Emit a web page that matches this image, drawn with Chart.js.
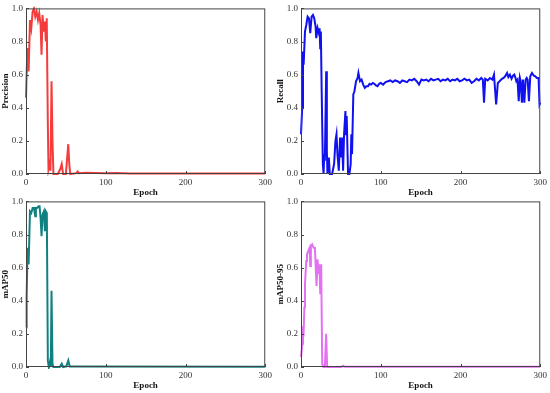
<!DOCTYPE html>
<html>
<head>
<meta charset="utf-8">
<script src="https://cdn.jsdelivr.net/npm/chart.js@4"></script>
<style>
    body { margin: 0; background: #fff; }
    #wrap { position: relative; width: 550px; height: 393px; }
    canvas { position: absolute; }
</style>
</head>
<body>
<div id="wrap">
    <canvas id="c1" width="275" height="199" style="left:0;top:0"></canvas>
    <canvas id="c2" width="275" height="199" style="left:275px;top:0"></canvas>
    <canvas id="c3" width="275" height="200" style="left:0;top:193px"></canvas>
    <canvas id="c4" width="275" height="200" style="left:275px;top:193px"></canvas>
</div>
<script>
// epochs / values
const precisionX = [0, 1.7, 3.3, 5, 6.6, 8.3, 10, 11.6, 13.3, 15, 16.6, 18.3, 19.5, 20.7, 22.4, 23.7, 24.9, 26, 27.4, 28.2, 29.5, 30.7, 32, 33.2, 34.4, 40, 43, 44.8, 46.5, 50, 52, 53, 54.4, 55.6, 63, 64.7, 66.4, 75, 100, 113, 130, 300];
const precisionY = [0.46, 0.76, 0.62, 0.93, 0.88, 0.98, 1.0, 0.95, 0.98, 0.93, 0.97, 0.90, 0.72, 0.96, 0.86, 0.92, 0.80, 0.94, 0.30, 0.03, 0.06, 0.02, 0.56, 0.20, 0.0, 0.0, 0.03, 0.06, 0.0, 0.0, 0.12, 0.18, 0.05, 0.0, 0.005, 0.015, 0.005, 0.008, 0.004, 0.006, 0.003, 0.003];

const recallX = [0, 1.5, 2.5, 3.3, 5, 6.6, 8.3, 10, 11.6, 13.3, 15, 16.6, 18.3, 19.1, 20.8, 22.4, 23.3, 24.1, 24.9, 25.8, 27.4, 28.3, 29.1, 29.9, 31.6, 32.4, 33.2, 34.9, 36.1, 39, 41.5, 43.2, 44.5, 45.7, 47.4, 49, 50.3, 51.5, 52.8, 54, 55.7, 56.5, 57.3, 58.2, 59, 60.7, 62.3, 63.1, 64, 65.6, 67, 69, 71, 72, 74, 76, 78, 80, 82, 84, 86, 88, 90, 92, 94, 96, 98, 100, 103, 106, 109, 112, 115, 118, 121, 124, 127, 130, 133, 136, 139, 142, 145, 148, 151, 154, 157, 160, 163, 166, 169, 172, 175, 178, 181, 184, 187, 190, 193, 196, 199, 202, 205, 208, 211, 214, 217, 220, 223, 226, 228, 229.5, 231, 234, 237, 240, 242, 244.7, 246.8, 249, 252, 254, 256, 258.4, 260, 262, 264, 266, 267.5, 269, 270, 271.5, 273, 274.5, 275.5, 277, 278.4, 280, 281.7, 283, 284.2, 285.8, 287.5, 289.6, 291.7, 293.7, 295.8, 297.9, 299.1, 300];
const recallY = [0.24, 0.40, 0.74, 0.66, 0.86, 0.90, 0.95, 0.94, 0.85, 0.95, 0.96, 0.94, 0.89, 0.82, 0.88, 0.85, 0.88, 0.76, 0.86, 0.54, 0.06, 0.0, 0.12, 0.08, 0.62, 0.14, 0.0, 0.10, 0.0, 0.0, 0.06, 0.20, 0.24, 0.12, 0.02, 0.22, 0.10, 0.22, 0.02, 0.24, 0.38, 0.24, 0.35, 0.16, 0.0, 0.0, 0.06, 0.24, 0.12, 0.48, 0.50, 0.56, 0.58, 0.61, 0.56, 0.57, 0.54, 0.52, 0.53, 0.53, 0.545, 0.54, 0.55, 0.545, 0.535, 0.53, 0.545, 0.55, 0.54, 0.555, 0.56, 0.565, 0.555, 0.565, 0.56, 0.55, 0.565, 0.56, 0.555, 0.57, 0.565, 0.575, 0.56, 0.54, 0.57, 0.565, 0.57, 0.56, 0.575, 0.565, 0.57, 0.575, 0.56, 0.57, 0.565, 0.575, 0.56, 0.57, 0.565, 0.575, 0.56, 0.565, 0.575, 0.565, 0.57, 0.55, 0.56, 0.575, 0.565, 0.58, 0.57, 0.43, 0.575, 0.565, 0.58, 0.57, 0.60, 0.42, 0.55, 0.56, 0.575, 0.58, 0.59, 0.61, 0.585, 0.60, 0.575, 0.595, 0.60, 0.58, 0.56, 0.57, 0.44, 0.58, 0.56, 0.43, 0.57, 0.43, 0.57, 0.58, 0.57, 0.44, 0.59, 0.61, 0.595, 0.59, 0.58, 0.58, 0.42, 0.43];

const map50X = [0, 0.8, 2, 3.3, 5, 6.6, 8.3, 10, 11.6, 12.4, 14, 15.8, 17, 18.3, 19.5, 20.7, 22.4, 23.7, 24.9, 26.1, 27.4, 28.6, 29.9, 31.1, 32, 33.2, 34.4, 42.3, 44.8, 46.5, 50.6, 53, 54.8, 63, 300];
const map50Y = [0.24, 0.42, 0.72, 0.62, 0.94, 0.93, 0.96, 0.96, 0.91, 0.96, 0.96, 0.97, 0.97, 0.90, 0.79, 0.92, 0.94, 0.82, 0.94, 0.93, 0.04, 0.0, 0.03, 0.0, 0.46, 0.02, 0.0, 0.0, 0.02, 0.0, 0.004, 0.04, 0.003, 0.003, 0.002];

const map5095X = [0, 1.7, 2.5, 3.3, 4.2, 5, 6.6, 7.5, 9.1, 10.8, 11.6, 12.4, 14.1, 15.8, 17.4, 18.3, 19.5, 20.7, 22, 23.2, 24.1, 25.3, 26.6, 28.2, 29.9, 31.5, 32.8, 34, 50.6, 52.7, 54.8, 300];
const map5095Y = [0.06, 0.14, 0.22, 0.21, 0.36, 0.50, 0.64, 0.68, 0.70, 0.72, 0.61, 0.73, 0.74, 0.72, 0.72, 0.62, 0.49, 0.65, 0.56, 0.62, 0.44, 0.62, 0.02, 0.0, 0.0, 0.20, 0.0, 0.0, 0.0, 0.008, 0.001, 0.001];

const xTicks = [0, 100, 200, 300];
const yTicks = [0, 0.2, 0.4, 0.6, 0.8, 1.0];

const FONT = "'Liberation Serif', 'Times New Roman', serif";
const AXIS_COLOR = "#444";

// frame + inward tick marks
const framePlugin = {
    id: "frame",
    afterDraw(chart) {
        const { ctx, chartArea: a, scales } = chart;
        ctx.save();
        ctx.strokeStyle = AXIS_COLOR;
        ctx.lineWidth = 1;
        ctx.strokeRect(a.left + 0.5, a.top + 0.5, a.right - a.left - 1, a.bottom - a.top - 1);
        ctx.beginPath();
        for (const v of xTicks) {
            const px = Math.round(scales.x.getPixelForValue(v)) + 0.5;
            ctx.moveTo(px, a.bottom);
            ctx.lineTo(px, a.bottom - 3);
        }
        for (const v of yTicks) {
            const py = Math.round(scales.y.getPixelForValue(v)) + 0.5;
            ctx.moveTo(a.left, py);
            ctx.lineTo(a.left + 3, py);
        }
        ctx.stroke();
        ctx.restore();
    }
};

function makeChart(id, xs, ys, color, yTitle, xHeight, titlePad) {
    const pts = xs.map((x, i) => ({ x: x, y: ys[i] }));
    new Chart(document.getElementById(id), {
        type: "line",
        data: {
            datasets: [{
                data: pts,
                borderColor: color,
                borderWidth: 2,
                pointRadius: 0,
                tension: 0,
                fill: false,
                clip: 2
            }]
        },
        options: {
            responsive: false,
            animation: false,
            devicePixelRatio: 1,
            layout: { padding: { top: 6, right: 8, left: 0, bottom: 0 } },
            plugins: { legend: { display: false }, tooltip: { enabled: false } },
            scales: {
                x: {
                    type: "linear",
                    min: 0,
                    max: 300,
                    afterFit: s => { s.height = xHeight; },
                    afterBuildTicks: s => { s.ticks = xTicks.map(v => ({ value: v })); },
                    grid: { display: false, drawTicks: false },
                    border: { display: false },
                    ticks: {
                        padding: 3,
                        maxRotation: 0,
                        color: "#333",
                        font: { family: FONT, size: 9 }
                    },
                    title: {
                        display: true,
                        text: "Epoch",
                        color: "#111",
                        padding: { top: 0, bottom: titlePad },
                        font: { family: FONT, size: 9, weight: "bold" }
                    }
                },
                y: {
                    min: 0,
                    max: 1,
                    afterFit: s => { s.width = 26; },
                    afterBuildTicks: s => { s.ticks = yTicks.map(v => ({ value: v })); },
                    grid: { display: false, drawTicks: false },
                    border: { display: false },
                    ticks: {
                        padding: 3,
                        color: "#333",
                        font: { family: FONT, size: 9 },
                        callback: v => v.toFixed(1)
                    },
                    title: {
                        display: true,
                        text: yTitle,
                        color: "#111",
                        padding: 0,
                        font: { family: FONT, size: 9, weight: "bold" }
                    }
                }
            }
        },
        plugins: [framePlugin]
    });
}

makeChart("c1", precisionX, precisionY, "#f53b3b", "Precision", 25, 1);
makeChart("c2", recallX, recallY, "#1010f0", "Recall", 25, 1);
makeChart("c3", map50X, map50Y, "#118080", "mAP50", 26, 2);
makeChart("c4", map5095X, map5095Y, "#e471f2", "mAP50-95", 26, 2);
</script>
</body>
</html>
